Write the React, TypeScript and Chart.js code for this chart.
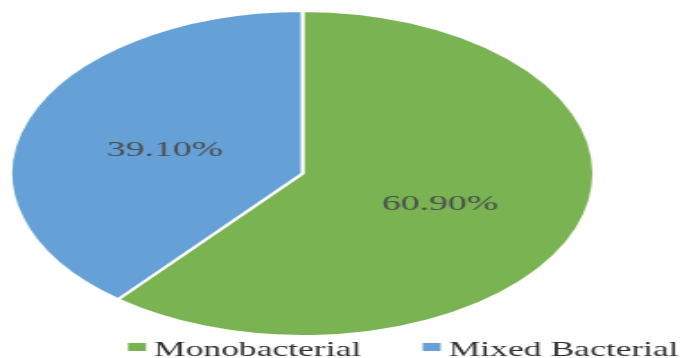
import { useEffect, useRef } from "react";
import { Chart, registerables } from "chart.js";

Chart.register(...registerables);

// Share of cases by culture result
const categories = ["Monobacterial", "Mixed Bacterial"];
const shares = [60.9, 39.1];
const sliceColors = ["#79B352", "#65A1D7"];

// The pie is drawn on a narrow canvas and widened with CSS, giving an oval.
const PAGE_W = 686;
const PAGE_H = 358;
const STRETCH = 1.795;
const CANVAS_W = Math.round(PAGE_W / STRETCH);

const SERIF = '"Liberation Serif", "Times New Roman", serif';

const sliceLabels = {
  id: "sliceLabels",
  afterDatasetsDraw(chart: any) {
    const ctx = chart.ctx as CanvasRenderingContext2D;
    const meta = chart.getDatasetMeta(0);
    ctx.save();
    ctx.font = `21px ${SERIF}`;
    ctx.fillStyle = "#4d4d4d";
    ctx.textAlign = "center";
    ctx.textBaseline = "middle";
    meta.data.forEach((arc: any, i: number) => {
      const p = arc.getCenterPoint();
      ctx.fillText(shares[i].toFixed(2) + "%", p.x, p.y + 4);
    });
    ctx.restore();
  },
};

// Legend row under the pie: a small swatch followed by the category name
const bottomLegend = {
  id: "bottomLegend",
  afterDraw(chart: any) {
    const ctx = chart.ctx as CanvasRenderingContext2D;
    const swatchX = [71.3, 235.5];
    const textX = [85.8, 250];
    const textSquash = 0.9;
    ctx.save();
    ctx.font = `22px ${SERIF}`;
    ctx.textAlign = "left";
    ctx.textBaseline = "alphabetic";
    categories.forEach((name, i) => {
      ctx.fillStyle = sliceColors[i];
      ctx.fillRect(swatchX[i], 343, 10, 8);
      ctx.save();
      ctx.translate(textX[i], 356);
      ctx.scale(textSquash, 1);
      ctx.fillStyle = "#2e2e2e";
      ctx.fillText(name, 0, 0);
      ctx.restore();
    });
    ctx.restore();
  },
};

export default function App() {
  const canvasRef = useRef<HTMLCanvasElement | null>(null);

  useEffect(() => {
    const canvas = canvasRef.current;
    if (!canvas) return;
    const chart = new Chart(canvas, {
      type: "pie",
      data: {
        labels: categories,
        datasets: [
          {
            data: shares,
            backgroundColor: sliceColors,
            borderColor: "#ffffff",
            borderWidth: 2,
          },
        ],
      },
      options: {
        responsive: false,
        animation: false,
        layout: { padding: { left: 5, right: 50, top: 10, bottom: 21 } },
        plugins: {
          legend: { display: false },
          tooltip: { enabled: false },
        },
      },
      plugins: [sliceLabels, bottomLegend],
    });
    return () => chart.destroy();
  }, []);

  return (
    <div
      style={{
        position: "fixed",
        left: 0,
        top: 0,
        width: PAGE_W,
        height: PAGE_H,
        overflow: "hidden",
        background: "#ffffff",
      }}
    >
      <div
        style={{
          width: CANVAS_W,
          height: PAGE_H,
          transform: `scaleX(${STRETCH})`,
          transformOrigin: "0 0",
        }}
      >
        <canvas
          ref={canvasRef}
          width={CANVAS_W}
          height={PAGE_H}
          style={{ width: CANVAS_W, height: PAGE_H, display: "block" }}
        />
      </div>
    </div>
  );
}
